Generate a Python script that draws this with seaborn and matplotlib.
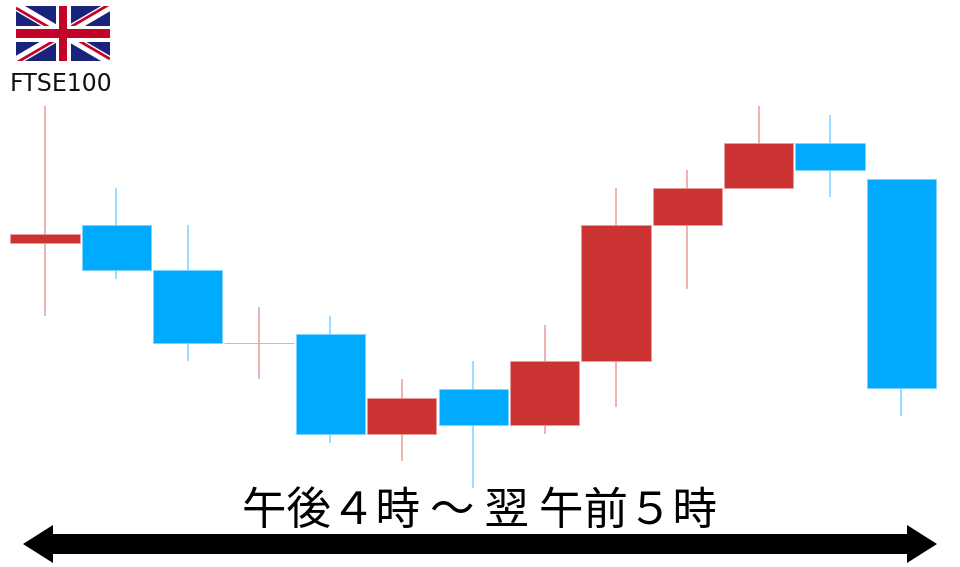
import pandas as pd
import numpy as np
import matplotlib
matplotlib.use('Agg')
import matplotlib.pyplot as plt
import seaborn as sns
from matplotlib.patches import FancyArrow, Rectangle

# ================= DATA =================
# price levels (no scale in the original, so pixels above the bottom)
sessions = ['s01', 's02', 's03', 's04', 's05', 's06', 's07', 's08', 's09', 's10', 's11', 's12', 's13']
open_px = [324, 342, 297, 224, 233, 133, 178, 142, 206, 342, 379, 424, 388]
close_px = [333, 297, 224, 224, 133, 169, 142, 206, 342, 379, 424, 397, 179]
high_px = [461, 379, 342, 260, 251, 188, 206, 242, 379, 397, 461, 452, 388]
low_px = [251, 288, 206, 188, 124, 106, 79, 133, 160, 278, 379, 370, 151]

TITLE = '午後４時 ～ 翌 午前５時'
LABEL = 'FTSE100'

RED = '#cc3333'
BLUE = '#00aaff'
RED_WICK = '#e99c9c'
BLUE_WICK = '#7fd4ff'

sns.set_theme(style='white')
plt.rcParams['font.family'] = ['Noto Sans CJK JP', 'DejaVu Sans']

df = pd.DataFrame({'session': sessions, 'open': open_px, 'close': close_px,
                   'high': high_px, 'low': low_px})
df['bottom'] = df[['open', 'close']].min(axis=1)
df['body'] = (df['close'] - df['open']).abs()
df['kind'] = np.where(df['close'] >= df['open'], 'up', 'down')

fig = plt.figure(figsize=(9.6, 5.67), dpi=100)
ax = fig.add_axes([0, 0, 1, 1])

# wicks first, bodies sit over them
x = np.arange(len(df))
wick_colors = [RED_WICK if k == 'up' else BLUE_WICK for k in df['kind']]
ax.vlines(x, df['low'], df['high'], colors=wick_colors, linewidth=1.1, zorder=1)

# one barplot per colour, order keeps every candle on its own slot
for kind, face, edge in [('up', RED, RED_WICK), ('down', BLUE, BLUE_WICK)]:
    part = df[df['kind'] == kind]
    sns.barplot(data=part, x='session', y='body', bottom=part['bottom'].values,
                order=sessions, color=face, saturation=1, width=0.97,
                errorbar=None, edgecolor=edge, linewidth=0.6, ax=ax, zorder=2)

ax.set_xlim(-0.63, 12.82)
ax.set_ylim(0, 567)
ax.axis('off')

# overlay in picture pixels for flag, texts and arrow
over = fig.add_axes([0, 0, 1, 1])
over.set_xlim(0, 960)
over.set_ylim(567, 0)
over.axis('off')
over.patch.set_alpha(0)

# --- flag ---
fx0, fx1, fy0, fy1 = 16, 110, 6, 61
cx, cy = (fx0 + fx1) / 2, (fy0 + fy1) / 2
NAVY = '#1a237b'
FLAG_RED = '#c4032b'
over.add_patch(Rectangle((fx0, fy0), fx1 - fx0, fy1 - fy0, color=NAVY, zorder=3, lw=0))
clip = Rectangle((fx0, fy0), fx1 - fx0, fy1 - fy0, transform=over.transData)
for (ax_, ay_), off in [((fx0, fy0), 2), ((fx1, fy0), -2), ((fx1, fy1), -2), ((fx0, fy1), 2)]:
    line, = over.plot([ax_, cx], [ay_, cy], color='white', lw=6.5, zorder=4, solid_capstyle='projecting')
    line.set_clip_path(clip)
    line, = over.plot([ax_, cx], [ay_ + off, cy + off], color=FLAG_RED, lw=2, zorder=5, solid_capstyle='butt')
    line.set_clip_path(clip)
over.add_patch(Rectangle((cx - 7.5, fy0), 15, fy1 - fy0, color='white', zorder=6, lw=0))
over.add_patch(Rectangle((fx0, cy - 8), fx1 - fx0, 16, color='white', zorder=6, lw=0))
over.add_patch(Rectangle((cx - 4, fy0), 8, fy1 - fy0, color=FLAG_RED, zorder=7, lw=0))
over.add_patch(Rectangle((fx0, cy - 4.5), fx1 - fx0, 9, color=FLAG_RED, zorder=7, lw=0))

# --- texts ---
over.text(61, 84, LABEL, ha='center', va='center', fontsize=17, color='#111111',
          family=['DejaVu Sans'])
over.text(480, 511, TITLE, ha='center', va='center', fontsize=32, color='black')

# --- arrow, two halves back to back ---
for dx in (457, -457):
    over.add_patch(FancyArrow(480, 544, dx, 0, width=20, head_width=38, head_length=30,
                              length_includes_head=True, color='black', lw=0))

fig.savefig('out.png', dpi=100)
